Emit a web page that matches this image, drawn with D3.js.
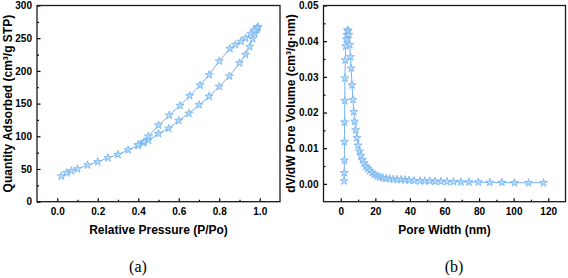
<!DOCTYPE html>
<html>
<head>
<meta charset="utf-8">
<script src="https://cdn.jsdelivr.net/npm/d3@7"></script>
<style>
  body { margin: 0; background: #fff; }
  svg { display: block; }
  .tick text { font-family: "Liberation Sans", Arial, sans-serif; font-weight: bold; font-size: 10px; fill: #000; }
</style>
</head>
<body>
<div id="chart"></div>
<script>
// isotherm data (a)
const adsP = [0.02, 0.046, 0.07, 0.10, 0.15, 0.20, 0.25, 0.30, 0.35, 0.40, 0.425, 0.45, 0.50, 0.55, 0.60, 0.65, 0.70, 0.75, 0.80, 0.85, 0.90, 0.93, 0.95, 0.965, 0.975, 0.985, 0.99];
const adsQ = [39, 44, 47, 50, 56, 61, 67, 72, 79, 86, 90, 94, 104, 112, 124, 135, 148, 161, 176, 192, 212, 225, 237, 249, 257, 263, 267];
const desP = [0.99, 0.985, 0.972, 0.955, 0.93, 0.908, 0.88, 0.853, 0.80, 0.75, 0.705, 0.654, 0.606, 0.553, 0.50, 0.45, 0.43, 0.40];
const desQ = [267, 265, 262, 257, 250, 245, 240, 234, 215, 194, 178, 162, 147, 132, 117, 100, 92, 87];

// pore size distribution (b)
const poreWidth = [1.9, 2.0, 2.1, 2.1, 2.2, 2.3, 2.4, 2.6, 2.9, 3.2, 3.5, 3.9, 4.3, 4.7, 5.2, 5.6, 6.0, 6.5, 7.0, 7.5, 8.0, 8.6, 9.3, 10.0, 10.8, 11.6, 12.5, 13.5, 14.5, 15.6, 16.8, 18.1, 19.5, 21.0, 22.6, 24.3, 26.2, 28.2, 30.4, 32.6, 34.9, 37.2, 39.5, 42.5, 45.9, 48.6, 51.5, 54.6, 58.0, 61.5, 65.2, 69.5, 74.2, 79.6, 86.2, 93.2, 100.5, 108.6, 117.3];
const dVdW = [0.0008, 0.0031, 0.0066, 0.0118, 0.0173, 0.0233, 0.0296, 0.0347, 0.0386, 0.0405, 0.0418, 0.0431, 0.0428, 0.0418, 0.0390, 0.0356, 0.0324, 0.0277, 0.0236, 0.0202, 0.0175, 0.0151, 0.0129, 0.0108, 0.0091, 0.0079, 0.0067, 0.0058, 0.0049, 0.0043, 0.0037, 0.0031, 0.0026, 0.0022, 0.0019, 0.0017, 0.0015, 0.0014, 0.0013, 0.0012, 0.0012, 0.0011, 0.0010, 0.0009, 0.0008, 0.0008, 0.0008, 0.0007, 0.0007, 0.0006, 0.0006, 0.0005, 0.0005, 0.0005, 0.0004, 0.0004, 0.0003, 0.0003, 0.0003];

// ticks
const ticksA_x = [0, 0.2, 0.4, 0.6, 0.8, 1.0];
const ticksA_y = [0, 50, 100, 150, 200, 250, 300];
const ticksB_x = [0, 20, 40, 60, 80, 100, 120];
const ticksB_y = [0, 0.01, 0.02, 0.03, 0.04, 0.05];

const W = 568, H = 278;
const plotTop = 5.5, plotBottom = 201.7;
const lineColor = "#72b3f0";
const markFill = "#b8dbfb";
const font = '"Liberation Sans", Arial, sans-serif';

const svg = d3.select("#chart").append("svg").attr("width", W).attr("height", H);

const star = d3.symbol().type(d3.symbolStar).size(20);

function panel(opt) {
  const x = d3.scaleLinear().domain(opt.xDomain).range([opt.left, opt.right]);
  const y = d3.scaleLinear().domain(opt.yDomain).range([plotBottom, plotTop]);
  const g = svg.append("g");

  // minor ticks
  g.append("g")
    .attr("transform", "translate(0," + plotBottom + ")")
    .call(d3.axisBottom(x).tickValues(opt.xMinor).tickSize(-2).tickFormat(""))
    .call((s) => s.select(".domain").remove());
  g.append("g")
    .attr("transform", "translate(" + opt.left + ",0)")
    .call(d3.axisLeft(y).tickValues(opt.yMinor).tickSize(-2).tickFormat(""))
    .call((s) => s.select(".domain").remove());

  // major ticks
  g.append("g")
    .attr("transform", "translate(0," + plotBottom + ")")
    .call(d3.axisBottom(x).tickValues(opt.xTicks).tickSize(-3.5).tickPadding(6).tickFormat(opt.xFmt))
    .call((s) => s.select(".domain").remove());
  g.append("g")
    .attr("transform", "translate(" + opt.left + ",0)")
    .call(d3.axisLeft(y).tickValues(opt.yTicks).tickSize(-3.5).tickPadding(5).tickFormat(opt.yFmt))
    .call((s) => s.select(".domain").remove());
  g.selectAll(".tick line").attr("stroke", "#000").attr("stroke-width", 1.2);

  // frame
  g.append("rect")
    .attr("x", opt.left)
    .attr("y", plotTop)
    .attr("width", opt.right - opt.left)
    .attr("height", plotBottom - plotTop)
    .attr("fill", "none")
    .attr("stroke", "#1a1a1a")
    .attr("stroke-width", 1.3);

  const line = d3.line().x((d) => x(d[0])).y((d) => y(d[1]));

  opt.series.forEach(function (s) {
    const pts = s[0].map((v, i) => [v, s[1][i]]);
    g.append("path")
      .attr("d", line(pts))
      .attr("fill", "none")
      .attr("stroke", lineColor)
      .attr("stroke-width", 1);
    g.selectAll(null)
      .data(pts)
      .enter()
      .append("path")
      .attr("d", star)
      .attr("transform", (d) => "translate(" + x(d[0]) + "," + y(d[1]) + ")")
      .attr("fill", markFill)
      .attr("stroke", lineColor)
      .attr("stroke-width", 0.8);
  });

  // axis titles
  svg.append("text")
    .attr("x", (opt.left + opt.right) / 2)
    .attr("y", 234)
    .attr("text-anchor", "middle")
    .attr("font-family", font)
    .attr("font-weight", "bold")
    .attr("font-size", 12)
    .text(opt.xTitle);
  svg.append("text")
    .attr("transform", "translate(" + opt.yTitleX + "," + (plotTop + plotBottom) / 2 + ") rotate(-90)")
    .attr("text-anchor", "middle")
    .attr("font-family", font)
    .attr("font-weight", "bold")
    .attr("font-size", 12)
    .text(opt.yTitle);

  // caption
  svg.append("text")
    .attr("x", opt.capX)
    .attr("y", 272)
    .attr("text-anchor", "middle")
    .attr("font-family", '"Liberation Serif", "Times New Roman", serif')
    .attr("font-size", 16)
    .text(opt.caption);
}

panel({
  left: 37, right: 280,
  xDomain: [-0.1, 1.1], yDomain: [0, 300],
  xTicks: ticksA_x, yTicks: ticksA_y,
  xMinor: [0.1, 0.3, 0.5, 0.7, 0.9], yMinor: [25, 75, 125, 175, 225, 275],
  xFmt: d3.format(".1f"), yFmt: d3.format("d"),
  series: [[adsP, adsQ], [desP, desQ]],
  xTitle: "Relative Pressure (P/Po)",
  yTitle: "Quantity Adsorbed (cm³/g STP)",
  yTitleX: 12,
  caption: "(a)", capX: 138
});

panel({
  left: 323.5, right: 565.5,
  xDomain: [-10, 130], yDomain: [-0.005, 0.05],
  xTicks: ticksB_x, yTicks: ticksB_y,
  xMinor: [10, 30, 50, 70, 90, 110], yMinor: [0.005, 0.015, 0.025, 0.035, 0.045],
  xFmt: d3.format("d"), yFmt: d3.format(".2f"),
  series: [[poreWidth, dVdW]],
  xTitle: "Pore Width (nm)",
  yTitle: "dV/dW Pore Volume (cm³/g·nm)",
  yTitleX: 295,
  caption: "(b)", capX: 454
});
</script>
</body>
</html>
